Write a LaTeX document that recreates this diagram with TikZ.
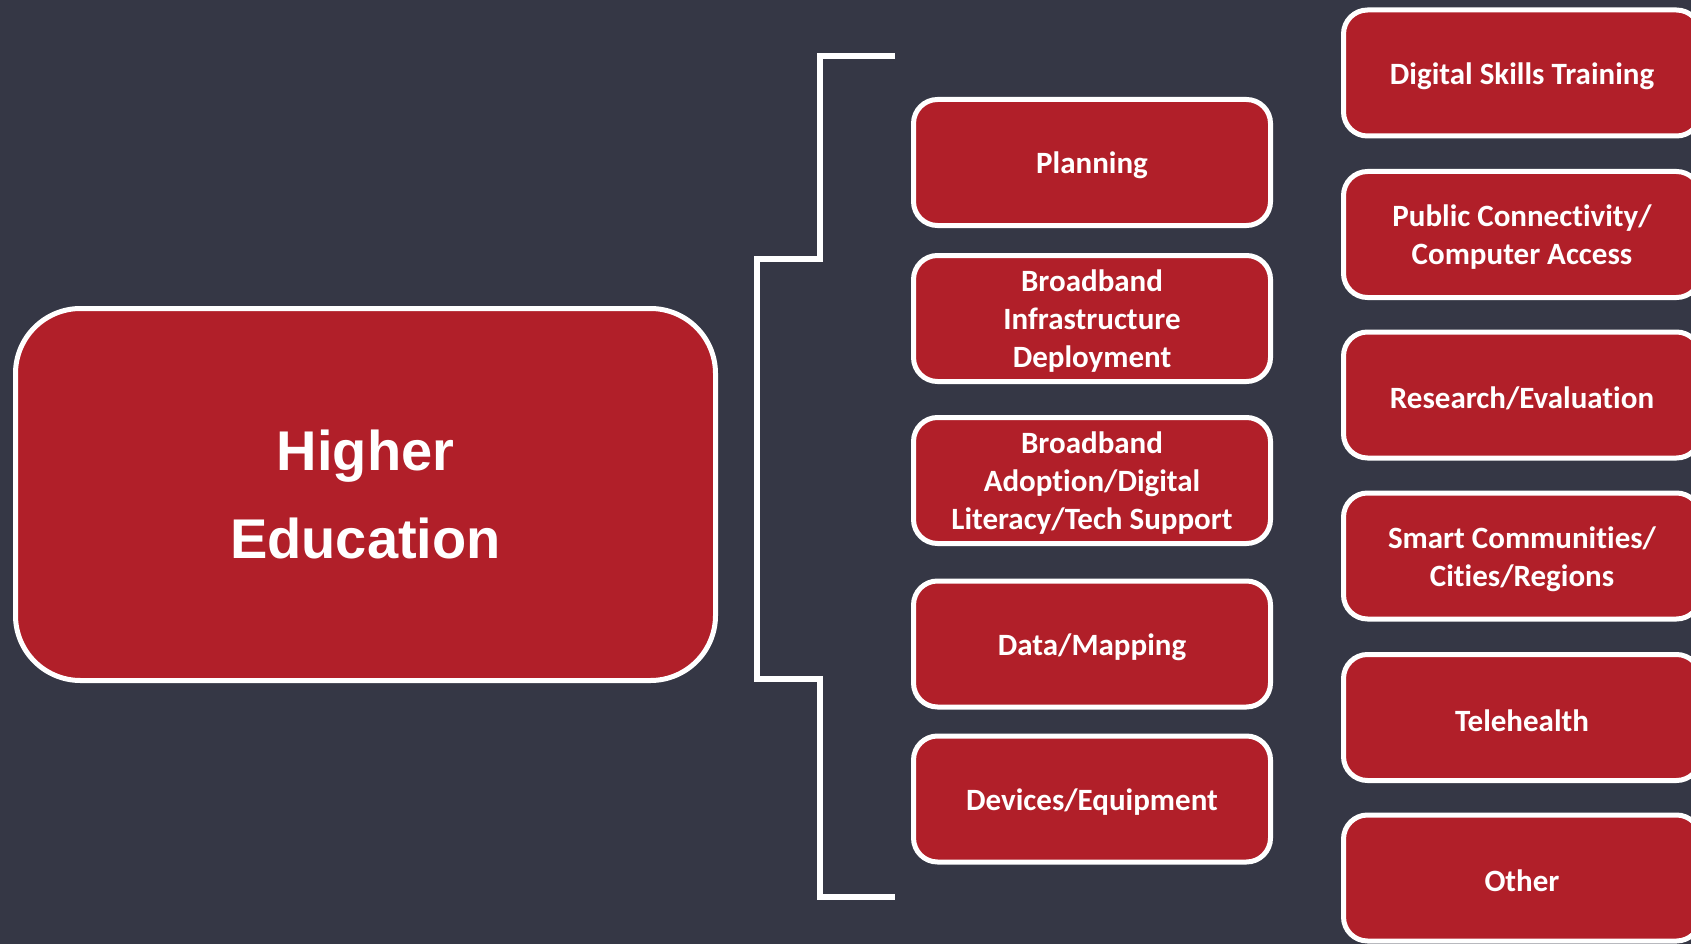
\documentclass[tikz,border=0pt]{standalone}
\usepackage{fontspec}
\setmainfont{Carlito}[Ligatures={NoCommon}]
\newfontfamily\arialfont{Liberation Sans}
\definecolor{bgc}{HTML}{353745}
\definecolor{boxred}{HTML}{B11F29}
\newcommand\catnode[3]{%
  \node[catbox] (#1) at (#2) {};
  \node[cattext] (#1-t) at ([yshift=-3pt]#1.center) {#3};}
\begin{document}
\begin{tikzpicture}[x=1pt,y=-1pt,
  catbox/.style={draw=white, fill=boxred, line width=5pt, rounded corners=24pt,
    minimum width=357pt, minimum height=126pt, inner sep=0pt},
  cattext/.style={align=center, text=white,
    font=\fontsize{31}{38}\selectfont\bfseries, inner sep=0pt},
  bigbox/.style={draw=white, fill=boxred, line width=5pt, rounded corners=65pt,
    minimum width=700pt, minimum height=372pt, align=center, text=white,
    font=\arialfont\fontsize{56}{88}\selectfont\bfseries, inner sep=0pt},
  bracketline/.style={draw=white, line width=6.5pt, miter limit=10}
]
\useasboundingbox (0,0) rectangle (1691,944);
\fill[bgc] (0,0) rectangle (1691,944);
\clip (0,0) rectangle (1691,944);

\node[bigbox] (he) at (365.5,494.5) {Higher\\Education};

% bracket
\coordinate (b1) at (895,56);
\coordinate (b2) at (820,56);
\coordinate (b3) at (820,259);
\coordinate (b4) at (757,259);
\coordinate (b5) at (757,679);
\coordinate (b6) at (820,679);
\coordinate (b7) at (820,897);
\coordinate (b8) at (895,897);
\draw[bracketline] (b1) -- (b2) -- (b3) -- (b4) -- (b5) -- (b6) -- (b7) -- (b8);

% middle column
\catnode{plan}{1092,162.5}{Planning}
\catnode{infra}{1092,318.5}{Broadband\\Infrastructure\\Deployment}
\catnode{adopt}{1092,480.5}{Broadband\\Adoption/Digital\\Literacy/Tech Support}
\catnode{data}{1092,644}{Data/Mapping}
\catnode{dev}{1092,799}{Devices/Equipment}

% right column
\catnode{skills}{1522,73}{Digital Skills Training}
\catnode{public}{1522,234.5}{Public Connectivity/\\Computer Access}
\catnode{research}{1522,395}{Research/Evaluation}
\catnode{smart}{1522,556}{Smart Communities/\\Cities/Regions}
\catnode{tele}{1522,717.5}{Telehealth}
\catnode{other}{1522,878}{Other}
\end{tikzpicture}
\end{document}
